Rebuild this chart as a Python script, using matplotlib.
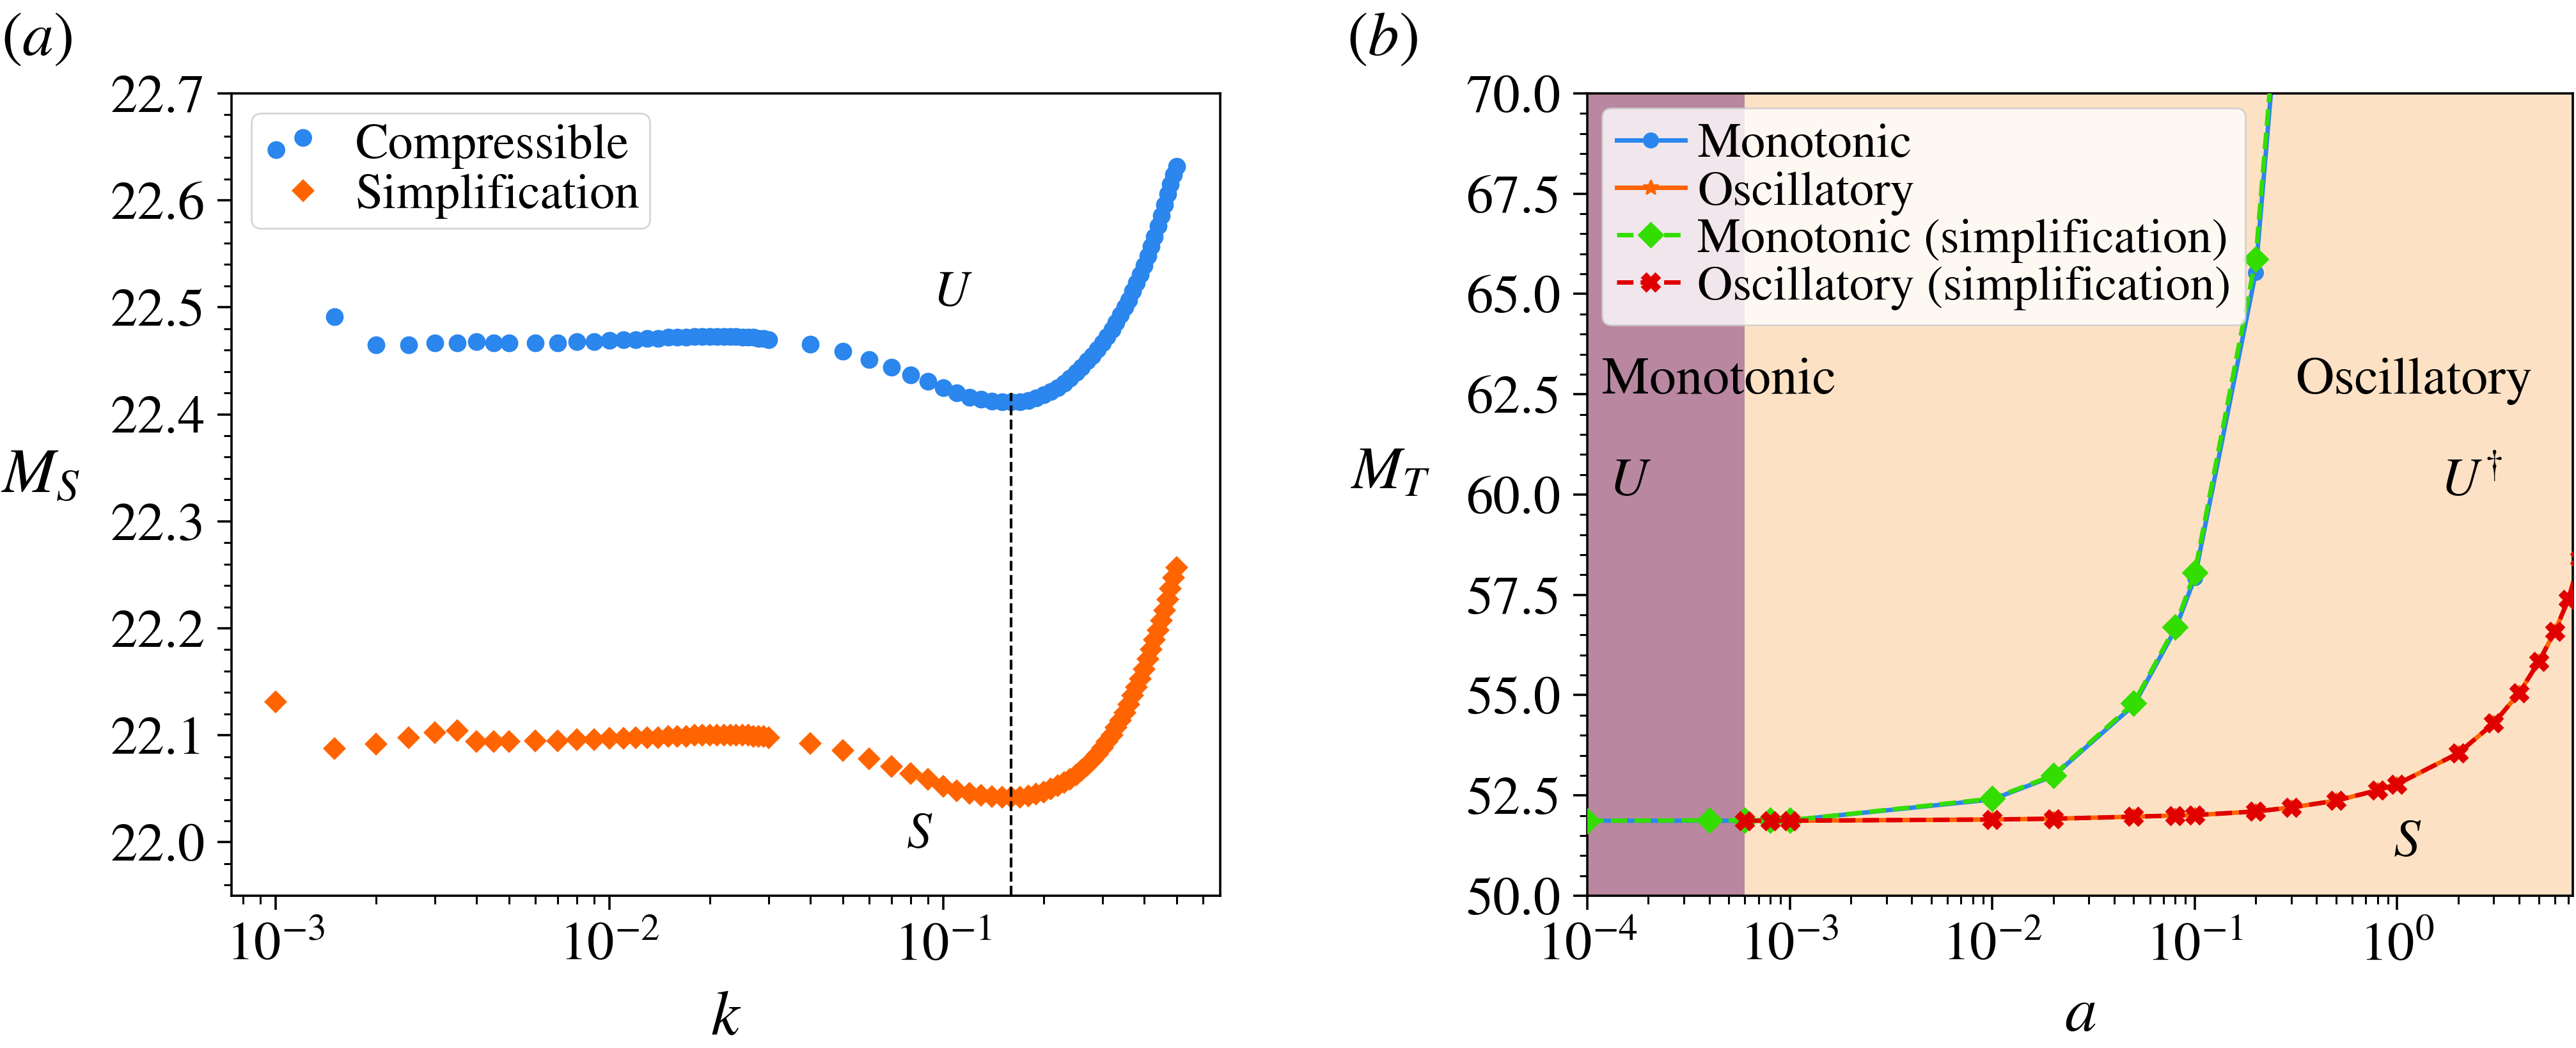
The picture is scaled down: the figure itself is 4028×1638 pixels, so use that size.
import numpy as np
import matplotlib
matplotlib.use('Agg')
import matplotlib.pyplot as plt
from matplotlib.ticker import MultipleLocator, FormatStrFormatter, LogLocator, NullFormatter
from matplotlib.legend_handler import HandlerLine2D

# ---------------- Panel (a) data ----------------
k_comp = [0.0015, 0.002, 0.0025, 0.003, 0.0035, 0.004, 0.0045, 0.005, 0.006, 0.007, 0.008, 0.009,
          0.010, 0.011, 0.012, 0.013, 0.014, 0.015, 0.016, 0.017, 0.018, 0.019, 0.020,
          0.021, 0.022, 0.023, 0.024, 0.025, 0.026, 0.027, 0.028, 0.029, 0.030,
          0.04, 0.05, 0.06, 0.07, 0.08, 0.09, 0.10, 0.11, 0.12, 0.13, 0.14, 0.15,
          0.16, 0.17, 0.18, 0.19, 0.20, 0.21, 0.22, 0.23, 0.24, 0.25, 0.26, 0.27, 0.28, 0.29, 0.30,
          0.31, 0.32, 0.33, 0.34, 0.35, 0.36, 0.37, 0.38, 0.39, 0.40,
          0.41, 0.42, 0.43, 0.44, 0.45, 0.46, 0.47, 0.48, 0.49, 0.50]
M_comp = [22.491, 22.465, 22.465, 22.467, 22.467, 22.468, 22.467, 22.467, 22.467, 22.467, 22.468, 22.468,
          22.469, 22.470, 22.470, 22.471, 22.471, 22.472, 22.472, 22.472, 22.473, 22.473, 22.473,
          22.473, 22.473, 22.473, 22.473, 22.472, 22.472, 22.472, 22.471, 22.471, 22.470,
          22.4656, 22.459, 22.451, 22.444, 22.437, 22.431, 22.425, 22.420, 22.416, 22.414, 22.4125, 22.412,
          22.412, 22.412, 22.413, 22.415, 22.418, 22.421, 22.425, 22.429, 22.434, 22.439, 22.444, 22.450, 22.455, 22.461, 22.467,
          22.473, 22.479, 22.486, 22.493, 22.500, 22.507, 22.515, 22.523, 22.531, 22.539,
          22.548, 22.557, 22.566, 22.576, 22.586, 22.596, 22.606, 22.615, 22.624, 22.632]

k_simp = [0.001] + k_comp
M_simp = [22.131, 22.0875, 22.092, 22.0975, 22.1025, 22.104, 22.094, 22.094, 22.094, 22.095, 22.095, 22.096, 22.096,
          22.097, 22.097, 22.098, 22.098, 22.098, 22.099, 22.099, 22.099, 22.100, 22.100, 22.100,
          22.100, 22.100, 22.100, 22.100, 22.100, 22.100, 22.099, 22.099, 22.099, 22.098,
          22.0925, 22.086, 22.078, 22.071, 22.064, 22.059, 22.0525, 22.048, 22.0455, 22.044, 22.0425, 22.042,
          22.042, 22.042, 22.043, 22.045, 22.047, 22.050, 22.053, 22.056, 22.059, 22.063, 22.067, 22.072, 22.077, 22.082, 22.088,
          22.094, 22.100, 22.107, 22.114, 22.121, 22.129, 22.137, 22.145, 22.153, 22.162,
          22.171, 22.180, 22.189, 22.198, 22.207, 22.217, 22.227, 22.237, 22.247, 22.257]

k_min = 0.16
M_vline_top = 22.42

# ---------------- Panel (b) data ----------------
a_mono = [1e-4, 4e-4, 6e-4, 8e-4, 1e-3, 1e-2, 2e-2, 5e-2, 8e-2, 0.1, 0.2, 0.3]
M_mono = [51.87, 51.87, 51.87, 51.88, 51.88, 52.40, 52.98, 54.75, 56.63, 57.92, 65.53, 76.0]
M_mono_simp = [51.87, 51.88, 51.88, 51.88, 51.88, 52.42, 53.00, 54.80, 56.70, 58.05, 65.87, 76.5]

a_osc = [6e-4, 8e-4, 1e-3, 1e-2, 2e-2, 5e-2, 8e-2, 0.1, 0.2, 0.3, 0.5, 0.8, 1, 2, 3, 4, 5, 6, 7, 8]
M_osc = [51.87, 51.87, 51.87, 51.90, 51.92, 51.97, 52.00, 52.01, 52.10, 52.20, 52.37, 52.63, 52.78,
         53.55, 54.30, 55.05, 55.83, 56.58, 57.38, 58.40]
M_osc_simp = [51.87, 51.87, 51.87, 51.90, 51.92, 51.97, 52.00, 52.01, 52.10, 52.20, 52.37, 52.63, 52.78,
              53.55, 54.30, 55.05, 55.83, 56.58, 57.38, 58.40]

a_boundary = 6e-4

# ---------------- Style ----------------
plt.rcParams['font.family'] = ['STIXGeneral', 'DejaVu Serif']
plt.rcParams['mathtext.fontset'] = 'stix'
plt.rcParams['axes.linewidth'] = 1.3
for ax_ in ('xtick', 'ytick'):
    plt.rcParams[f'{ax_}.major.size'] = 8
    plt.rcParams[f'{ax_}.minor.size'] = 4.5
    plt.rcParams[f'{ax_}.major.width'] = 1.3
    plt.rcParams[f'{ax_}.minor.width'] = 1.1
    plt.rcParams[f'{ax_}.major.pad'] = 7
    plt.rcParams[f'{ax_}.minor.pad'] = 7
    plt.rcParams[f'{ax_}.labelsize'] = 30.5

C_BLUE = '#2B86ED'
C_ORANGE = '#FF6400'
C_GREEN = '#33DD00'
C_RED = '#E00000'
C_PURPLE = '#B9879F'
C_PEACH = '#FDE1C4'


class RightMarkerHandler(HandlerLine2D):
    """Legend handler that puts a single marker at the right end of the handle."""
    def get_xdata(self, legend, xdescent, ydescent, width, height, fontsize):
        pad = self._marker_pad * fontsize
        x = -xdescent + width - pad
        return np.array([x]), np.array([x])


fig = plt.figure(figsize=(4028 / 200, 1638 / 200), dpi=200)
ax1 = fig.add_axes([0.0899, 0.1453, 0.3838, 0.7656])
ax2 = fig.add_axes([0.6162, 0.1453, 0.3826, 0.7656])

# ---------------- Panel (a) ----------------
ax1.scatter(k_comp, M_comp, s=100, color=C_BLUE, linewidths=0, label='Compressible', zorder=2)
simp_line, = ax1.plot(k_simp, M_simp, ls='none', marker='D', ms=9.4, color=C_ORANGE, mew=0,
                      label='Simplification', zorder=2)
ax1.vlines(k_min, 21.95, M_vline_top, colors='k', linestyles='--', lw=1.5, zorder=3)
ax1.set_xscale('log')
ax1.set_xlim(10 ** -3.132, 10 ** -0.170)
ax1.set_ylim(21.95, 22.7)
ax1.yaxis.set_major_locator(MultipleLocator(0.1))
ax1.yaxis.set_minor_locator(MultipleLocator(0.02))
ax1.yaxis.set_major_formatter(FormatStrFormatter('%.1f'))
ax1.set_xlabel('$k$', fontsize=36, labelpad=11)
ax1.set_ylabel('$M_S$', fontsize=36, rotation=0, ha='center', va='center')
ax1.yaxis.set_label_coords(-0.193, 0.521)
ax1.text(0.107, 22.5125, '$U$', fontsize=28, ha='center', va='center')
ax1.text(0.0848, 22.006, '$S$', fontsize=28, ha='center', va='center')
ax1.legend(loc='upper left', fontsize=28, scatterpoints=2, scatteryoffsets=[0.23, 0.58],
           handlelength=1.14, labelspacing=0.08, borderpad=0.2, handletextpad=0.75,
           borderaxespad=0.4, handler_map={simp_line: RightMarkerHandler()})

# ---------------- Panel (b) ----------------
ax2.axvspan(1e-4, a_boundary, color=C_PURPLE, lw=0, zorder=0)
ax2.axvspan(a_boundary, 100, color=C_PEACH, lw=0, zorder=0)
ax2.plot(a_mono, M_mono, '-o', color=C_BLUE, lw=2.5, ms=8, label='Monotonic', zorder=2)
ax2.plot(a_osc, M_osc, '-*', color=C_ORANGE, lw=2.5, ms=9, label='Oscillatory', zorder=2)
ax2.plot(a_mono, M_mono_simp, '--D', color=C_GREEN, lw=2.5, ms=9.5, label='Monotonic (simplification)', zorder=3)
ax2.plot(a_osc, M_osc_simp, '--X', color=C_RED, lw=2.5, ms=10, label='Oscillatory (simplification)', zorder=3)
ax2.set_xscale('log')
ax2.set_xlim(1e-4, 10 ** 0.868)
ax2.set_ylim(50, 70)
ax2.yaxis.set_major_locator(MultipleLocator(2.5))
ax2.yaxis.set_minor_locator(MultipleLocator(0.5))
ax2.yaxis.set_major_formatter(FormatStrFormatter('%.1f'))
ax2.set_xlabel('$a$', fontsize=36, labelpad=9)
ax2.set_ylabel('$M_T$', fontsize=34, rotation=0, ha='center', va='center')
ax2.yaxis.set_label_coords(-0.2, 0.525)
ax2.text(1.18e-4, 62.83, 'Monotonic', fontsize=30, ha='left', va='center')
ax2.text(1.28e-4, 60.3, '$U$', fontsize=30, ha='left', va='center')
ax2.text(0.315, 62.83, 'Oscillatory', fontsize=30, ha='left', va='center')
ax2.text(1.64, 60.3, r'$U^{\dagger}$', fontsize=30, ha='left', va='center')
ax2.text(1.12, 51.3, '$S$', fontsize=30, ha='center', va='center')
ax2.legend(loc='upper left', fontsize=27.5, handlelength=1.4, labelspacing=0.05,
           borderpad=0.3, handletextpad=0.25, borderaxespad=0.3)

for ax in (ax1, ax2):
    ax.xaxis.set_major_locator(LogLocator(base=10, numticks=20))
    ax.xaxis.set_minor_locator(LogLocator(base=10, subs=np.arange(2, 10), numticks=20))
    ax.xaxis.set_minor_formatter(NullFormatter())

fig.text(0.0005, 1 - 63 / 1638, '$(a)$', fontsize=35, ha='left', va='center')
fig.text(2106 / 4028, 1 - 63 / 1638, '$(b)$', fontsize=35, ha='left', va='center')

fig.savefig('out.png', dpi=200)
